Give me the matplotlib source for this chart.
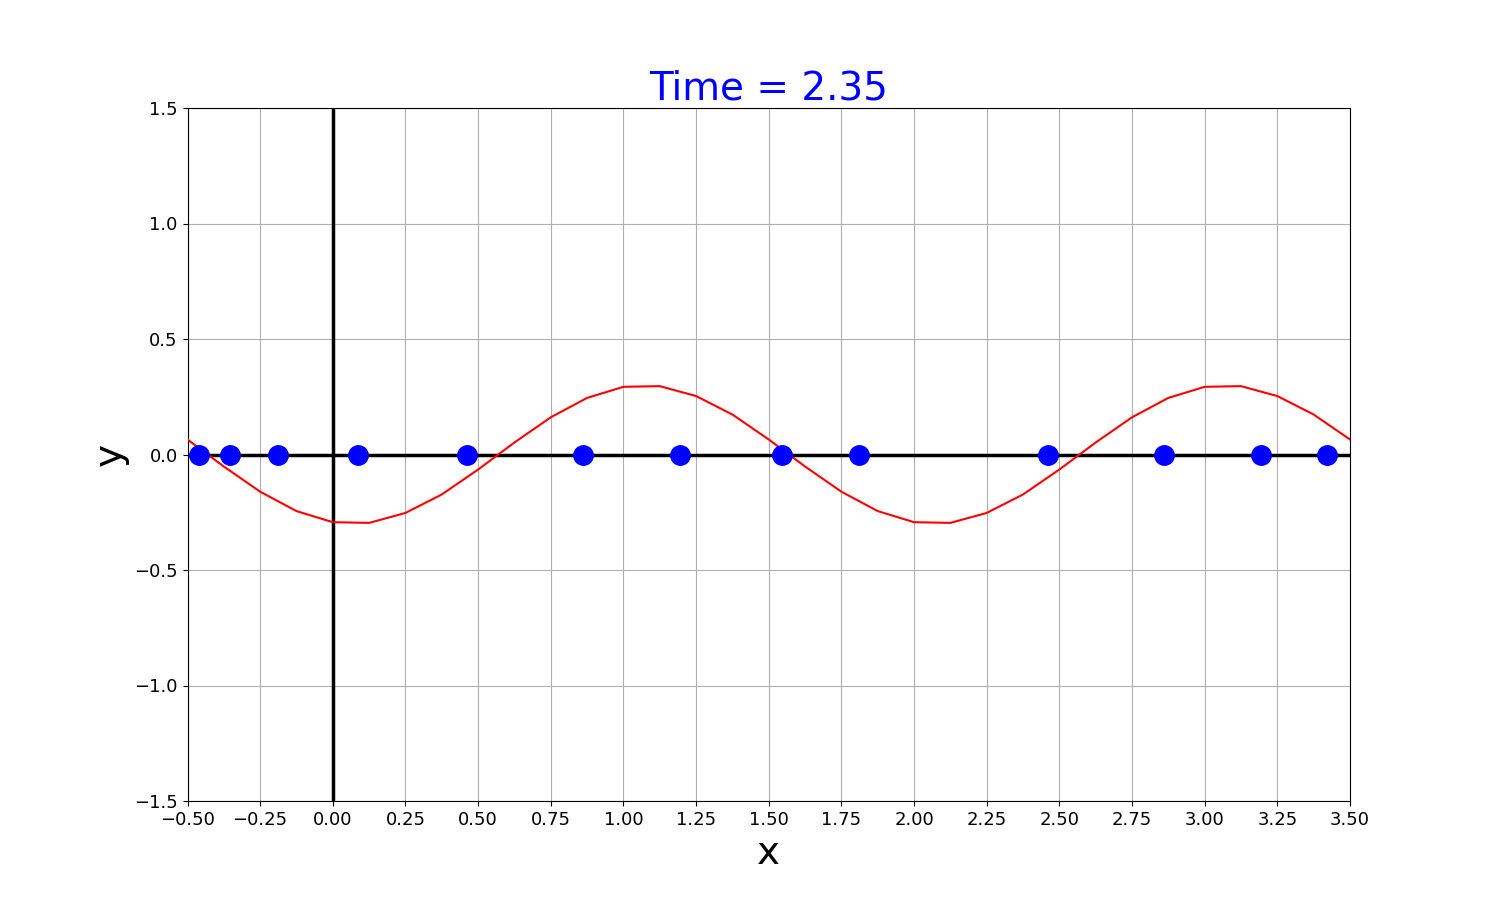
import numpy as np
import matplotlib
matplotlib.use("Agg")
import matplotlib.pyplot as plt

# courbe rouge
x_courbe = [-0.5, -0.375, -0.25, -0.125, 0.0, 0.125, 0.25, 0.375, 0.5, 0.625, 0.75, 0.875,
            1.0, 1.125, 1.25, 1.375, 1.5, 1.625, 1.75, 1.875, 2.0, 2.125, 2.25, 2.375,
            2.5, 2.625, 2.75, 2.875, 3.0, 3.125, 3.25, 3.375, 3.5]
y_courbe = [0.065, -0.052, -0.161, -0.245, -0.293, -0.296, -0.253, -0.173, -0.065, 0.052, 0.161, 0.245,
            0.293, 0.296, 0.253, 0.173, 0.065, -0.052, -0.161, -0.245, -0.293, -0.296, -0.253, -0.173,
            -0.065, 0.052, 0.161, 0.245, 0.293, 0.296, 0.253, 0.173, 0.065]

# particules bleues
x_points = [-0.46, -0.355, -0.19, 0.085, 0.46, 0.86, 1.195, 1.545, 1.81, 2.46, 2.86, 3.195, 3.42]
y_points = [0.0] * len(x_points)

temps = 2.35

fig, ax = plt.subplots(figsize=(15, 9), dpi=100)
ax.grid(True, zorder=0)
ax.axhline(0, color='k', lw=2.5, zorder=2)
ax.axvline(0, color='k', lw=2.5, zorder=2)
ax.plot(x_courbe, y_courbe, color='r', lw=1.5, zorder=3)
ax.plot(x_points, y_points, 'o', color='b', markersize=14, zorder=4)

ax.set_xlim(-0.5, 3.5)
ax.set_ylim(-1.5, 1.5)
ax.set_xticks(np.arange(-0.5, 3.51, 0.25))
ax.set_yticks(np.arange(-1.5, 1.51, 0.5))
ax.tick_params(labelsize=13)
ax.set_xlabel('x', fontsize=28)
ax.set_ylabel('y', fontsize=28)
ax.set_title('Time = {:.2f}'.format(temps), color='b', fontsize=28)

fig.savefig('out.png')
